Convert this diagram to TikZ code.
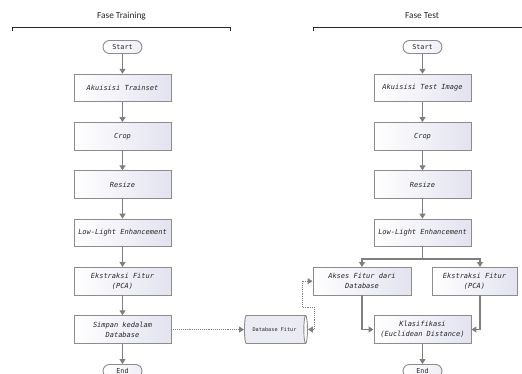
\documentclass[tikz,border=0pt]{standalone}
\usepackage{fontspec}
\setmainfont{Carlito}
\newfontfamily\boxfont{DejaVu Sans Mono}
\usetikzlibrary{arrows.meta,shapes.geometric}
\definecolor{linegray}{HTML}{7F7F7F}
\definecolor{bordergray}{HTML}{8C8C8C}
\definecolor{boxend}{HTML}{E3E3F0}
\definecolor{txt}{HTML}{262626}
\tikzset{
 procbox/.style={draw=bordergray, line width=0.9pt, left color=white, right color=boxend, minimum width=97pt, minimum height=27.5pt, inner sep=1pt, align=center, font=\boxfont\itshape\fontsize{7}{10}\selectfont, text=txt},
 termbox/.style={draw=bordergray, line width=0.9pt, rounded corners=6.5pt, minimum width=39pt, minimum height=13pt, inner sep=0pt, left color=white, right color=boxend!60, font=\boxfont\fontsize{6.8}{8}\selectfont, text=txt},
 flow/.style={draw=linegray, line width=1.2pt, -{Triangle[length=5pt,width=6pt]}},
 plainline/.style={draw=linegray, line width=1.2pt},
 dotflow/.style={draw=linegray, line width=0.9pt, densely dotted, -{Triangle[length=5pt,width=6pt]}},
 dotboth/.style={draw=linegray, line width=0.9pt, densely dotted, {Triangle[length=5pt,width=6pt]}-{Triangle[length=5pt,width=6pt]}},
 heading/.style={font=\fontsize{9.3}{11}\selectfont, text=txt},
 bracket/.style={draw=black!85, line width=1pt},
 dbshape/.style={cylinder, aspect=0.6, draw=bordergray, line width=0.9pt, minimum width=28pt, minimum height=63pt, inner sep=1pt, cylinder uses custom fill, cylinder body fill=boxend!70, cylinder end fill=white, font=\boxfont\fontsize{5.2}{6}\selectfont, text=txt},
}
\begin{document}
\begin{tikzpicture}[x=1pt,y=-1pt]
\useasboundingbox (0,0) rectangle (522,374);
% headings and brackets
\node[heading] (h1) at (121.5,16) {Fase Training};
\node[heading] (h2) at (422,16) {Fase Test};
\draw[bracket] (12,31.5) -- (12,28) -- (230,28) -- (230,31.5);
\draw[bracket] (313,31.5) -- (313,28) -- (522,28);
% left column
\node[termbox] (s1) at (122.5,47) {Start};
\node[procbox] (a1) at (122.5,88) {Akuisisi Trainset};
\node[procbox] (c1) at (122.5,136.3) {Crop};
\node[procbox] (r1) at (122.5,184.6) {Resize};
\node[procbox] (l1) at (122.5,232.9) {Low-Light Enhancement};
\node[procbox] (e1) at (122.5,281.2) {Ekstraksi Fitur\\(PCA)};
\node[procbox] (sd) at (122.5,329.5) {Simpan kedalam\\Database};
\node[termbox] (end1) at (122.5,371) {End};
\draw[flow] (s1) -- (a1);
\draw[flow] (a1) -- (c1);
\draw[flow] (c1) -- (r1);
\draw[flow] (r1) -- (l1);
\draw[flow] (l1) -- (e1);
\draw[flow] (e1) -- (sd);
\draw[flow] (sd) -- (end1);
% database
\node[dbshape] (db) at (274.5,329.5) {Database Fitur};
\draw[dotflow] (sd) -- (db);
% right column
\node[termbox] (s2) at (422.5,47) {Start};
\node[procbox] (a2) at (422.5,88) {Akuisisi Test Image};
\node[procbox] (c2) at (422.5,136.3) {Crop};
\node[procbox] (r2) at (422.5,184.6) {Resize};
\node[procbox] (l2) at (422.5,232.9) {Low-Light Enhancement};
\node[procbox, minimum width=98pt] (ak) at (362,281.2) {Akses Fitur dari\\Database};
\node[procbox, minimum width=85pt] (e2) at (474.5,281.2) {Ekstraksi Fitur\\(PCA)};
\node[procbox] (kl) at (422.5,329.5) {Klasifikasi\\(Euclidean Distance)};
\node[termbox] (end2) at (422.5,371) {End};
\draw[flow] (s2) -- (a2);
\draw[flow] (a2) -- (c2);
\draw[flow] (c2) -- (r2);
\draw[flow] (r2) -- (l2);
\coordinate (br) at (422.5,259);
\draw[plainline] (l2.south) -- (br);
\draw[flow] (br) -| (ak.north);
\draw[flow] (br) -| ([xshift=5.5pt]e2.north);
\draw[flow] (ak.south) |- (kl.west);
\draw[flow] ([xshift=5.5pt]e2.south) |- (kl.east);
\draw[flow] (kl) -- (end2);
% dotted link database -> akses
\coordinate (d1) at (314,307);
\coordinate (d2) at (302,307);
\draw[dotboth] (db.east) -| (d1) -- (d2) |- (ak.west);
\end{tikzpicture}
\end{document}
